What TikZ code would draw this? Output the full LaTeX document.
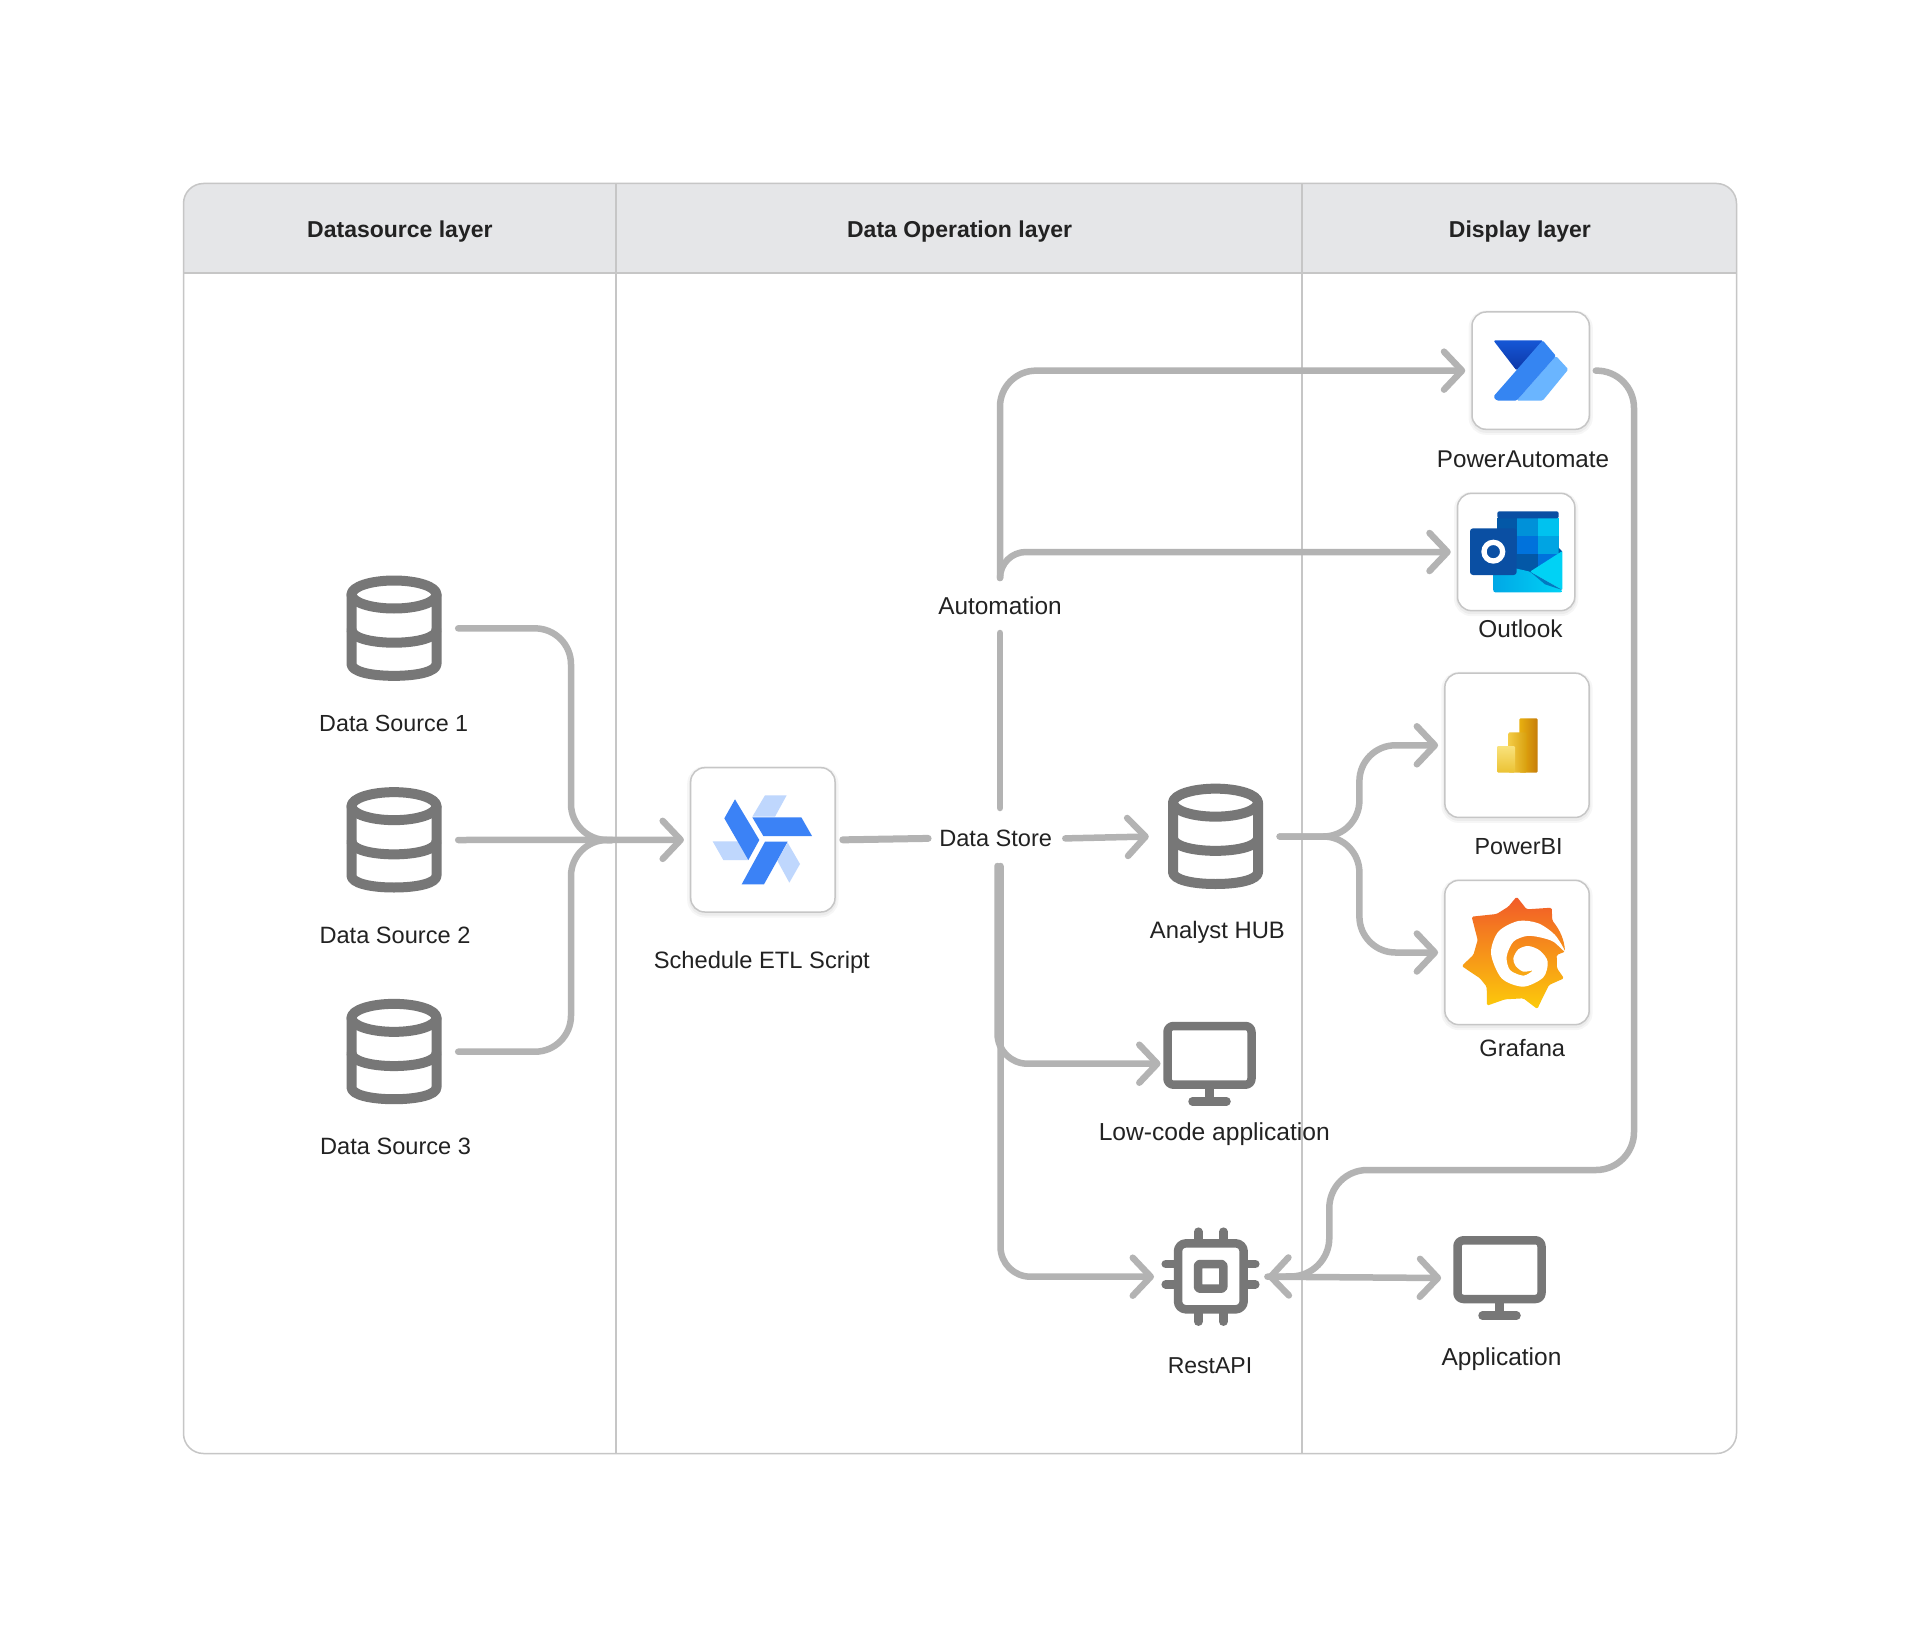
\documentclass[tikz,border=0pt]{standalone}
\usepackage{fontspec}
\setmainfont{Liberation Sans}
\usetikzlibrary{arrows.meta}
\definecolor{connc}{HTML}{B3B3B3}
\definecolor{iconc}{HTML}{777777}
\definecolor{framec}{HTML}{C6C6C6}
\definecolor{headc}{HTML}{E5E6E8}
\definecolor{textc}{HTML}{222222}
\definecolor{etlA}{HTML}{3B82F6}
\definecolor{etlB}{HTML}{BFD7FD}
\tikzset{
  conn/.style={draw=connc,line width=6.5pt,line cap=round,line join=round,rounded corners=#1},
  conn/.default=36pt,
  tipped/.style={-{Straight Barb[length=18pt,width=38pt,round]}},
  lbl/.style={font=\fontsize{#1}{27}\selectfont,text=textc,inner sep=0pt,anchor=center},
  lbl/.default=23.6,
  headlbl/.style={font=\fontsize{23}{27}\selectfont\bfseries,text=textc,inner sep=0pt},
  cardbox/.style={draw=framec,line width=1.5pt,fill=white,rounded corners=14pt,inner sep=0pt,
     minimum width=#1,minimum height=#1,
     preaction={draw=black,opacity=.035,line width=7pt,transform canvas={yshift=-2pt}},
     preaction={draw=black,opacity=.04,line width=3pt,transform canvas={yshift=-2pt}}},
  slot/.style n args={2}{inner sep=0pt,minimum width=#1,minimum height=#2},
  iconline/.style={draw=iconc,line width=#1,line cap=round,line join=round,fill=none},
  cylpic/.pic={
    \draw[iconline=10pt] (0,-33.85) ellipse [x radius=42.5,y radius=14];
    \draw[iconline=10pt] (-42.5,-33.85) -- (-42.5,35.65) .. controls (-42.5,43) and (-24,47.5) .. (0,47.5) .. controls (24,47.5) and (42.5,43) .. (42.5,35.65) -- (42.5,-33.85);
    \draw[iconline=10pt] (-42.5,1.65) .. controls (-42.5,9) and (-24,14.35) .. (0,14.35) .. controls (24,14.35) and (42.5,9) .. (42.5,1.65);
  },
  monpic/.pic={
    \draw[iconline=8.5pt,rounded corners=6pt] (-42,-37.7) rectangle (42,21);
    \draw[iconline=8.5pt] (0,25) -- (0,37.7);
    \draw[iconline=8.5pt] (-17,37.7) -- (17,37.7);
  },
}
\begin{document}
\begin{tikzpicture}[x=1pt,y=-1pt]
\useasboundingbox (0,0) rectangle (1920,1637);
\fill[white] (0,0) rectangle (1920,1637);
% frame
\fill[headc] (183.5,273) [rounded corners=20pt] -- (183.5,183.5) -- (1736.5,183.5) [sharp corners] -- (1736.5,273) -- cycle;
\draw[framec,line width=1.5pt] (183.5,273) -- (1736.5,273);
\draw[framec,line width=1.5pt] (616,183.5) -- (616,1453.5);
\draw[framec,line width=1.5pt] (1302,183.5) -- (1302,1453.5);
\draw[framec,line width=1.5pt,rounded corners=20pt] (183.5,183.5) rectangle (1736.5,1453.5);
\node[headlbl] (h1) at (399.9,232) {Datasource layer};
\node[headlbl] (h2) at (959.6,232) {Data Operation layer};
\node[headlbl] (h3) at (1519.9,232) {Display layer};

% anchors for icons (invisible)
\node[slot={95pt}{104.7pt}] (ds1) at (394,628.35) {};
\node[slot={95pt}{104.7pt}] (ds2) at (394,840) {};
\node[slot={95pt}{104.7pt}] (ds3) at (394,1051.7) {};
\node[slot={95pt}{104.7pt}] (hub) at (1215.5,836.5) {};
\node[slot={92.3pt}{84pt}] (mon) at (1209.5,1063.7) {};
\node[slot={92.3pt}{84pt}] (app) at (1499.5,1278) {};
\node[slot={91pt}{90pt}] (chip) at (1210.7,1276.7) {};

% text
\node[lbl=23.3] (l1) at (393.7,723.8) {Data Source 1};
\node[lbl] (l2) at (395,935.4) {Data Source 2};
\node[lbl] (l3) at (395.6,1146.5) {Data Source 3};
\node[lbl=23.7] (letl) at (761.8,962.6) {Schedule ETL Script};
\node[lbl] (store) at (995.7,838.4) {Data Store};
\node[lbl=24.4] (auto) at (1000,605.5) {Automation};
\node[lbl=23.8] (lhub) at (1217.4,932.6) {Analyst HUB};
\node[lbl=24.6] (llow) at (1214.3,1134.6) {Low-code application};
\node[lbl=23] (lchip) at (1210,1365.5) {RestAPI};
\node[lbl=24.5] (lapp) at (1501.5,1359) {Application};
\node[lbl=24.2] (lpa) at (1523,459.4) {PowerAutomate};
\node[lbl=24.4] (lol) at (1520.5,629) {Outlook};
\node[lbl=23.3] (lpbi) at (1518.6,846.9) {PowerBI};
\node[lbl=23.7] (lgf) at (1522.3,1048) {Grafana};

% cards
\node[cardbox=144.3pt] (etl) at (762.85,839.85) {};
\node[cardbox=117.3pt] (pa) at (1530.65,370.65) {};
\node[cardbox=117.3pt] (ol) at (1516.15,552) {};
\node[cardbox=144.3pt] (pbi) at (1517,745.3) {};
\node[cardbox=144.3pt] (gf) at (1517,952.5) {};

% branch points
\coordinate (merge) at (571,840);
\coordinate (mergeout) at (612,840);
\coordinate (autoup) at (1000,578);
\coordinate (storeup) at (1000,808);
\coordinate (autodown) at (1000,633);
\coordinate (storedownA) at (997.5,866);
\coordinate (storedownB) at (1000.5,866);
\coordinate (hubv) at (1359.4,836.5);
\coordinate (pavert) at (1634,370);
\coordinate (pavertb) at (1634,1170);
\coordinate (rest) at (1329.3,1170);
\coordinate (restb) at (1329.3,1276);

% connectors
\draw[conn] ([xshift=16.5pt]ds1.east) -- (merge |- ds1.east) -- (merge) -- (mergeout);
\draw[conn] ([xshift=16.5pt]ds3.east) -- (merge |- ds3.east) -- (merge) -- (mergeout);
\draw[conn,tipped] ([xshift=16.5pt]ds2.east) -- ([xshift=-6pt]etl.west);
\draw[conn,line width=7pt] ([xshift=7pt]etl.east) -- ([xshift=-11pt]store.west);
\draw[conn,tipped] ([xshift=13pt]store.east) -- ([xshift=-19pt]hub.west);
\draw[conn] (storeup) -- (autodown);
\draw[conn,tipped] (autoup) -- (autoup |- pa.west) -- ([xshift=-6pt]pa.west);
\draw[conn=26pt,tipped] (autoup) -- (autoup |- ol.west) -- ([xshift=-6pt]ol.west);
\draw[conn=30pt,tipped] (storedownA) -- (storedownA |- mon.west) -- ([xshift=-2.6pt]mon.west);
\draw[conn=30pt,tipped] (storedownB) -- (storedownB |- chip.west) -- ([xshift=-11pt]chip.west);
\draw[conn,tipped] ([xshift=16.5pt]hub.east) -- (hubv) -- (hubv |- pbi.west) -- ([xshift=-6pt]pbi.west);
\draw[conn,tipped] ([xshift=16.5pt]hub.east) -- (hubv) -- (hubv |- gf.west) -- ([xshift=-6pt]gf.west);
\draw[conn=38pt,tipped] ([xshift=5.7pt]pa.east) -- (pavert) -- (pavertb) -- (rest) -- (restb) -- ([xshift=11pt]chip.east);
\draw[conn,tipped] ([xshift=11pt]chip.east) -- ([xshift=-12pt]app.west);

% cylinders
\pic at (ds1) {cylpic};
\pic at (ds2) {cylpic};
\pic at (ds3) {cylpic};
\pic at (hub) {cylpic};
\pic at (mon) {monpic};
\pic at (app) {monpic};

% chip
\begin{scope}[shift={(1120,1000)},x=.33333pt,y=-.33333pt]
\draw[iconline=8.5pt,rounded corners=8pt] (174,730) rectangle (371,928);
\draw[iconline=8.5pt,rounded corners=2pt] (234,792) rectangle (310,866);
\draw[iconline=8.5pt] (235,695) -- (235,718) (310,695) -- (310,718) (235,940) -- (235,965) (310,940) -- (310,965);
\draw[iconline=8.5pt] (137,792) -- (162,792) (137,853) -- (162,853) (383,792) -- (406,792) (383,853) -- (406,853);
\end{scope}

% ETL logo
\begin{scope}[shift={(660,740)},x=.33333pt,y=-.33333pt]
\fill[etlB] (315,166) -- (380,166) -- (345,230) -- (277,230) -- cycle;
\fill[etlB] (158,304) -- (240,304) -- (265,360) -- (190,360) -- cycle;
\fill[etlB] (383,308) -- (420,372) -- (388,428) -- (352,362) -- cycle;
\fill[etlA] (225,178) -- (298,300) -- (265,360) -- (193,235) -- cycle;
\fill[etlA] (277,232) -- (424,232) -- (456,288) -- (310,288) -- cycle;
\fill[etlA] (315,305) -- (383,305) -- (312,433) -- (245,433) -- cycle;
\end{scope}

% Power Automate logo
\begin{scope}[shift={(1400,280)},x=.33333pt,y=-.33333pt]
\definecolor{paA}{HTML}{1557D6}\definecolor{paB}{HTML}{0D36A6}
\definecolor{paC}{HTML}{3585F2}\definecolor{paD}{HTML}{6AB5FF}
\path[top color=paA,bottom color=paB,rounded corners=1.5pt] (280,181) -- (430,181) -- (350,272) -- cycle;
\fill[paD,rounded corners=1.5pt] (468,228) -- (505,268) -- (428,362) -- (350,362) -- cycle;
\fill[paC,rounded corners=1.5pt] (428,181) -- (468,228) -- (350,362) -- (290,362) -- (280,350) -- cycle;
\end{scope}

% Outlook logo
\begin{scope}[shift={(1465,505)},x=.33333pt,y=-.33333pt]
\definecolor{olA}{HTML}{0A4FA3}\definecolor{olB}{HTML}{0091D9}
\definecolor{olC}{HTML}{00C2EF}\definecolor{olD}{HTML}{0072DC}
\definecolor{olE}{HTML}{00A4E3}\definecolor{olF}{HTML}{0358A7}
\definecolor{olG}{HTML}{00D2F5}\definecolor{olH}{HTML}{00A8E6}
\fill[olF] (97,40) rectangle (157,92);
\fill[olB] (157,40) rectangle (219,92);
\fill[olC] (219,40) rectangle (281,92);
\fill[olF] (97,92) rectangle (157,147);
\fill[olD] (157,92) rectangle (219,147);
\fill[olE] (219,92) rectangle (281,147);
\fill[olF] (97,147) rectangle (157,205);
\fill[olF] (157,147) rectangle (219,205);
\fill[olD] (219,147) rectangle (281,205);
\fill[olA,rounded corners=2pt] (97,19) rectangle (281,40);
\fill[olF] (281,128) -- (292,140) -- (281,148) -- cycle;
\path[left color=olH,right color=olG,rounded corners=2pt] (85,175) -- (195,200) -- (292,255) -- (292,262) -- (85,262) -- cycle;
\fill[olG,rounded corners=1pt] (292,138) -- (195,200) -- (292,255) -- cycle;
\fill[olF!60!olH] (195,200) -- (292,255) -- (240,238) -- cycle;
\fill[olA,rounded corners=3pt] (15,70) rectangle (155,210);
\draw[white,line width=5.3pt] (85,140) ellipse [x radius=28,y radius=28];
\end{scope}

% Power BI logo
\begin{scope}[shift={(1400,650)},x=.33333pt,y=-.33333pt]
\definecolor{biA}{HTML}{E8B010}\definecolor{biB}{HTML}{C67D0A}
\definecolor{biC}{HTML}{F4CC46}\definecolor{biD}{HTML}{D8A00E}
\definecolor{biE}{HTML}{F9E27C}\definecolor{biF}{HTML}{EBC233}
\path[left color=biA,right color=biB,rounded corners=1.2pt] (358,205) rectangle (413,368);
\path[left color=biC,right color=biD,rounded corners=1.2pt] (325,247) rectangle (380,368);
\path[top color=biE,bottom color=biF,rounded corners=1.2pt] (291,288) rectangle (345,368);
\end{scope}

% Grafana logo
\begin{scope}[shift={(1455,890)},x=.33333pt,y=-.33333pt]
\definecolor{grA}{HTML}{F15A29}\definecolor{grB}{HTML}{FCCB0A}
\path[top color=grA,bottom color=grB,rounded corners=1.5pt]
  (185,20) -- (215,58) -- (290,53) -- (292,92) .. controls (315,120) and (328,150) .. (330,185)
  -- (305,195) -- (306,235) -- (327,265) -- (282,285) -- (262,325) -- (247,357) -- (205,325) -- (150,328) -- (96,347) -- (95,290) -- (75,265) -- (20,228) -- (55,195) -- (68,150) -- (50,80) -- (125,72) -- (160,50) -- cycle;
\fill[white] plot[smooth cycle,tension=.5] coordinates {
  (330,185) (295,155) (255,142) (215,138) (175,155) (155,200) (165,240) (205,257) (232,242)
  (205,245) (182,228) (175,205) (190,178) (220,168) (255,182) (278,215)
  (265,262) (205,290) (140,265) (108,190) (130,125) (190,93) (250,100) (300,135)};
\end{scope}
\end{tikzpicture}
\end{document}
